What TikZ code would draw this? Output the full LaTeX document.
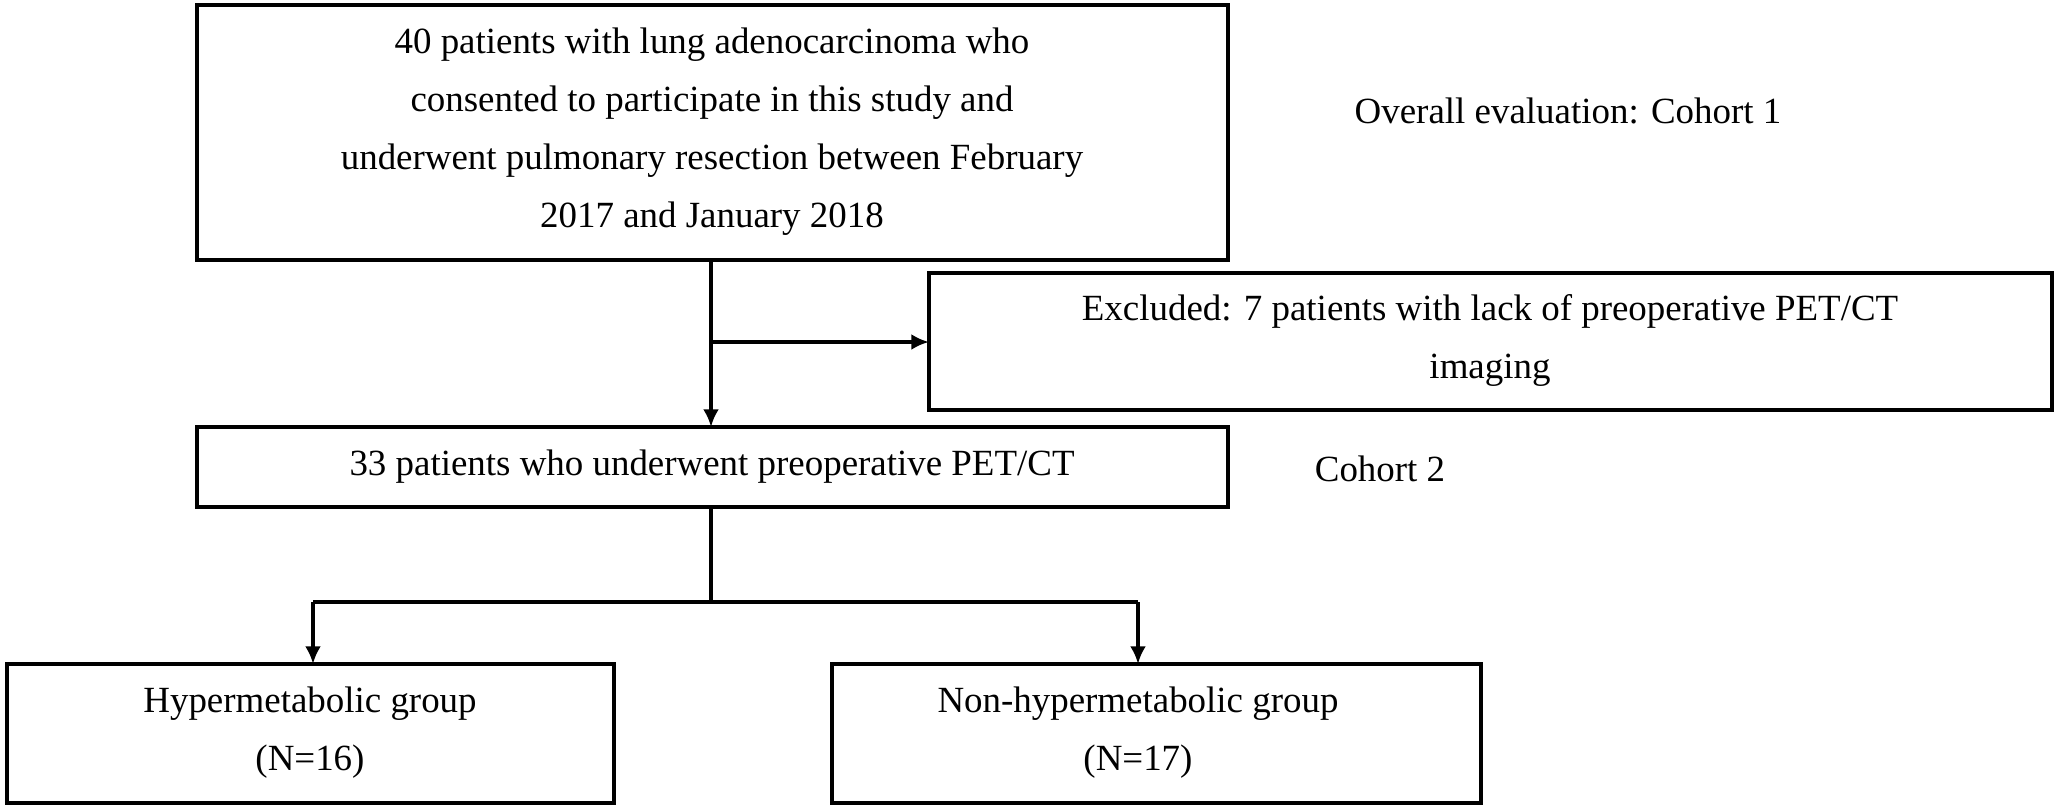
\documentclass[tikz,border=0pt]{standalone}
\usepackage{fontspec}
\usetikzlibrary{arrows.meta}
\setmainfont{Liberation Serif}
\begin{document}
\begin{tikzpicture}[x=0.01cm,y=-0.01cm,
 lbl/.style={font=\fontsize{10.5pt}{16.5pt}\selectfont},
 bx/.style={line width=1.3pt},
 ln/.style={line width=1.3pt},
 arr/.style={ln,-{Latex[length=5pt,width=4.5pt]}}]
\useasboundingbox (0,0) rectangle (2056,806);
\draw[bx] (197,5) rectangle (1228,260);
\node[lbl,align=center] (t1) at (712,132) {40 patients with lung adenocarcinoma who\\consented to participate in this study and\\underwent pulmonary resection between February\\2017 and January 2018};
\coordinate (b1s) at (711,260);
\draw[bx] (929,273) rectangle (2052,410);
\node[lbl,align=center] (ex) at (1490,340) {Excluded: 7 patients with lack of preoperative PET/CT\\imaging};
\coordinate (exw) at (929,342);
\draw[bx] (197,427) rectangle (1228,507);
\node[lbl] (c2) at (712,467) {33 patients who underwent preoperative PET/CT};
\coordinate (b2n) at (711,427);
\coordinate (b2s) at (711,507);
\coordinate (j1) at (711,342);
\draw[bx] (7,664) rectangle (614,803);
\node[lbl,align=center] (h) at (310,733) {Hypermetabolic group\\(N=16)};
\draw[bx] (832,664) rectangle (1481,803);
\node[lbl,align=center] (n) at (1138,733) {Non-hypermetabolic group\\(N=17)};
\coordinate (hn) at (313,664);
\coordinate (nn) at (1138,664);
\coordinate (s) at (711,602);
\coordinate (sl) at (313,602);
\coordinate (sr) at (1138,602);
\node[lbl] (o1) at (1568,111) {Overall evaluation: Cohort 1};
\node[lbl] (o2) at (1380,469) {Cohort 2};
\draw[arr] (b1s) -- (b2n);
\draw[arr] (j1) -- (exw);
\draw[ln] (b2s) -- (s);
\draw[ln] (sl) -- (sr);
\draw[arr] (sl) -- (hn);
\draw[arr] (sr) -- (nn);
\end{tikzpicture}
\end{document}
